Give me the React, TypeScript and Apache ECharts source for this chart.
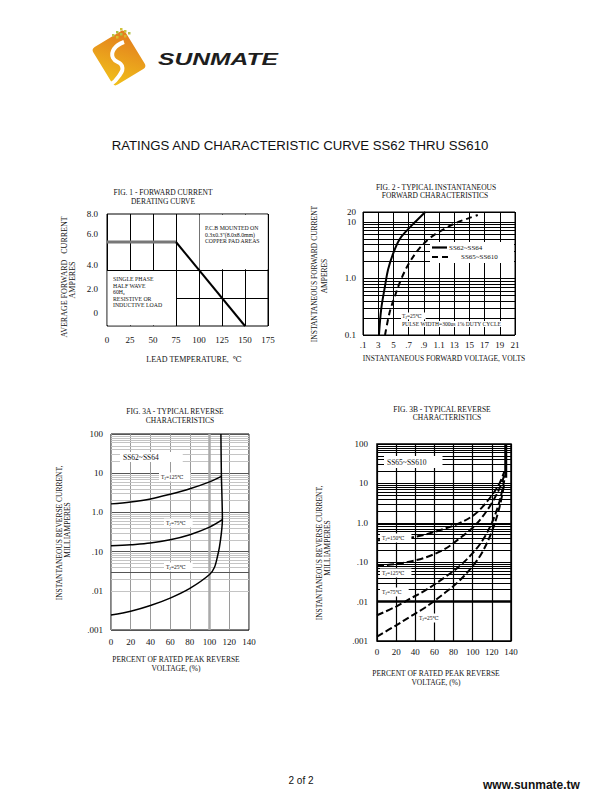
import React, { useEffect, useRef } from "react";
import * as echarts from "echarts";

const SERIF = "'Liberation Serif', 'DejaVu Serif', serif";
const SANS = "'Liberation Sans', Arial, sans-serif";

// ---------- FIG. 1 data ----------
const FIG1_Y_LABELS = ["0", "2.0", "4.0", "6.0", "8.0"];
const FIG1_FLAT = [[0, 6.0], [75, 6.0]];
const FIG1_DERATE = [[75, 6.0], [150, 0]];

// ---------- FIG. 2 data ----------
const FIG2_X_MIN = 0.1;
const FIG2_X_LABELS = [".1", "3", "5", ".7", ".9", "1.1", "13", "15", "17", "19", "21"];
const FIG2_Y_LABELS = ["0.1", "1.0", "10"];
const FIG2_Y_TOP_LABEL = "20";
const FIG2_LEGEND = ["SS62~SS64", "SS65~SS610"];
const FIG2_SS62_64 = [[0.31, 0.1], [0.34, 0.29], [0.39, 0.74], [0.43, 1.44], [0.5, 2.84], [0.58, 4.9], [0.67, 6.9], [0.8, 10.4], [0.92, 15]];
const FIG2_SS65_610 = [[0.39, 0.1], [0.45, 0.25], [0.52, 0.49], [0.61, 1.03], [0.72, 2.0], [0.85, 3.5], [0.98, 5.2], [1.16, 7.4], [1.33, 9.7], [1.51, 11.9], [1.61, 13.3]];

// ---------- FIG. 3 data ----------
const FIG3_Y_LABELS = [".001", ".01", ".10", "1.0", "10", "100"];
const FIG3A_TJ125 = [[0, 1.65], [20, 1.85], [40, 2.2], [60, 2.9], [80, 4.0], [100, 6.0], [112, 8.3]];
const FIG3A_TJ75 = [[0, 0.14], [20, 0.15], [40, 0.165], [60, 0.2], [80, 0.27], [100, 0.42], [113, 0.65]];
const FIG3A_TJ25 = [[0, 0.0024], [20, 0.003], [40, 0.0042], [60, 0.0065], [80, 0.0115], [100, 0.026], [105, 0.04], [108, 0.075], [110, 0.13], [112, 0.3], [113, 0.65], [112.5, 3], [112, 8.3], [111.5, 100]];

const FIG3B_TJ150 = [[0, 0.36], [20, 0.38], [35, 0.42], [50, 0.5], [70, 0.7], [85, 0.95], [100, 1.5], [110, 2.5], [120, 5], [128, 10], [133, 20]];
const FIG3B_TJ125 = [[0, 0.082], [20, 0.09], [35, 0.105], [50, 0.13], [70, 0.21], [85, 0.38], [100, 0.75], [110, 1.4], [120, 3.2], [128, 7.5], [133, 16]];
const FIG3B_TJ75 = [[0, 0.0045], [20, 0.0075], [35, 0.012], [50, 0.019], [70, 0.04], [85, 0.075], [100, 0.17], [110, 0.35], [120, 1.0], [128, 3.5], [133, 12]];
const FIG3B_TJ25 = [[0, 0.0013], [20, 0.0025], [35, 0.0042], [50, 0.007], [70, 0.016], [85, 0.032], [100, 0.08], [110, 0.18], [120, 0.6], [128, 2.5], [133, 10]];
const FIG3B_BREAKDOWN = [[134.5, 14], [134.5, 100]];

// log grid helpers (minor lines inside each decade)
const LOG_MINOR_STEPS = [2, 3, 4, 5, 6, 7, 8, 9];
const FIG2_MINOR_DECADES = [0.1, 1];
const FIG3_MINOR_DECADES = [0.001, 0.01, 0.1, 1, 10];
const FIG3A_DARK_LINES = [0.025, 0.0025];
const FIG3B_THICK_LINES = [0.008];

const minorLines = (decades: number[], style: any) =>
  decades.flatMap((d) => LOG_MINOR_STEPS.map((m) => ({ yAxis: Number((m * d).toPrecision(3)), lineStyle: style })));

const labelBase = { fontFamily: SERIF, fontSize: 9, color: "#111" };

const txt = (text: string, x: number, y: number, o: any = {}) => ({
  type: "text",
  x,
  y,
  z: 100,
  silent: true,
  rotation: o.rotation ?? 0,
  scaleX: o.scaleX ?? 1,
  style: {
    text,
    fontFamily: o.fontFamily ?? SERIF,
    fontSize: o.fontSize ?? 7.5,
    fontWeight: o.fontWeight ?? "normal",
    fontStyle: o.fontStyle ?? "normal",
    fill: o.fill ?? "#111",
    align: o.align ?? "center",
    verticalAlign: "middle",
    backgroundColor: o.bg,
    padding: o.padding,
    rich: o.rich,
  },
});

const tjRich = {
  t: { fontSize: 5.5, fontFamily: SERIF, fill: "#111" },
  s: { fontSize: 4, fontFamily: SERIF, fill: "#111", padding: [3, 0, 0, 0] },
};
const tj = (temp: string, x: number, y: number, pad = [1, 7, 1, 2]) =>
  txt(`{t|T}{s|J}{t|=${temp}\u2103}`, x, y, { align: "left", bg: "#fff", padding: pad, rich: tjRich });

const gridSeries = (gi: number, markLine: any, markArea?: any) => ({
  type: "line",
  name: "grid" + gi,
  xAxisIndex: gi,
  yAxisIndex: gi,
  data: [],
  z: 1,
  silent: true,
  markLine: { silent: true, symbol: ["none", "none"], label: { show: false }, emphasis: { disabled: true }, ...markLine },
  ...(markArea ? { markArea: { silent: true, itemStyle: { color: "#fff" }, emphasis: { disabled: true }, ...markArea } } : {}),
});

const curve = (name: string, gi: number, data: number[][], lineStyle: any, smooth: number | boolean = 0.35) => ({
  type: "line",
  name,
  xAxisIndex: gi,
  yAxisIndex: gi,
  data,
  symbol: "none",
  smooth,
  silent: true,
  z: 5,
  lineStyle: { color: "#000", width: 2, ...lineStyle },
  itemStyle: { color: "#000" },
});

function buildOption() {
  const fig2Shift = (d: number[][]) => d.map(([x, y]) => [Number((x - FIG2_X_MIN).toFixed(3)), y]);
  const fig1Rich: any = {
    l0: { padding: [0, 0, 26, 0] },
    l1: { padding: [0, 0, 18, 0] },
    l2: { padding: [0, 0, 10, 0] },
    l3: { padding: [0, 0, 16, 0] },
    l4: { padding: [0, 0, 0, 0] },
  };

  const blackSplit = { show: true, lineStyle: { color: "#000", width: 1 } };
  const axisCommon = { axisLine: { show: false }, axisTick: { show: false } };

  const graphic: any[] = [
    // ---- logo ----
    {
      type: "group",
      x: 119,
      y: 58,
      rotation: 0.55,
      z: 100,
      children: [
        {
          type: "rect",
          shape: { x: -19, y: -22, width: 38, height: 44, r: 4 },
          style: {
            fill: new echarts.graphic.LinearGradient(0, 1, 1, 0, [
              { offset: 0, color: "#f1c21b" },
              { offset: 1, color: "#e27a1e" },
            ]),
          },
        },
      ],
    },
    {
      type: "polyline",
      z: 101,
      shape: { points: [[124, 42], [114, 49], [113, 58], [122, 66], [119, 76], [110, 85]], smooth: 0.5 },
      style: { stroke: "#fff", lineWidth: 4, fill: "none" },
    },
    ...[
      [112, 34, "#b9c64a"], [116, 31, "#a9c03e"], [120, 28, "#cfc23a"], [116, 36, "#d9c030"],
      [120, 33, "#b0c447"], [124, 30, "#c8c43f"], [124, 35, "#d8b82a"], [128, 32, "#b4c24a"],
    ].map(([x, y, c]) => ({ type: "rect", z: 101, shape: { x: x as number, y: y as number, width: 2.5, height: 2.5 }, style: { fill: c as string } })),
    txt("SUNMATE", 158, 59, { align: "left", fontFamily: SANS, fontSize: 17, fontWeight: "bold", fontStyle: "italic", fill: "#1e1e1e", scaleX: 1.45 }),

    // ---- page title & footer ----
    txt("RATINGS AND CHARACTERISTIC CURVE SS62 THRU SS610", 300, 145, { fontFamily: SANS, fontSize: 13.2, fill: "#111" }),
    txt("2 of 2", 301, 780, { fontFamily: SANS, fontSize: 10 }),
    txt("www.sunmate.tw", 483, 785, { align: "left", fontFamily: SANS, fontSize: 12, fontWeight: "bold" }),

    // ---- FIG 1 ----
    txt("FIG. 1 - FORWARD CURRENT", 163, 192),
    txt("DERATING CURVE", 163, 201),
    txt("AVERAGE FORWARD   CURRENT", 64.5, 277, { rotation: Math.PI / 2, fontSize: 8 }),
    txt("AMPERES", 72, 280, { rotation: Math.PI / 2, fontSize: 8 }),
    txt("LEAD TEMPERATURE,  \u2103", 194, 359, { fontSize: 8 }),
    txt("P.C.B MOUNTED ON", 205, 228, { align: "left", fontSize: 5.8 }),
    txt("0.3x0.3\"(8.0x8.0mm)", 205, 234.5, { align: "left", fontSize: 5.8 }),
    txt("COPPER PAD AREAS", 205, 241, { align: "left", fontSize: 5.8 }),
    txt("SINGLE PHASE", 113, 279, { align: "left", fontSize: 5.8 }),
    txt("HALF WAVE", 113, 285.5, { align: "left", fontSize: 5.8 }),
    txt("60H{s|z}", 113, 292, { align: "left", fontSize: 5.8, rich: { s: { fontSize: 4, fontFamily: SERIF, padding: [3, 0, 0, 0] } } }),
    txt("RESISTIVE OR", 113, 298.5, { align: "left", fontSize: 5.8 }),
    txt("INDUCTIVE LOAD", 113, 305, { align: "left", fontSize: 5.8 }),

    // ---- FIG 2 ----
    txt("FIG. 2 - TYPICAL INSTANTANEOUS", 436, 187),
    txt("FORWARD CHARACTERISTICS", 435, 195.5),
    txt("INSTANTANEOUS FORWARD CURRENT", 314.5, 274, { rotation: Math.PI / 2 }),
    txt("AMPERES", 324.5, 276, { rotation: Math.PI / 2 }),
    txt("INSTANTANEOUS FORWARD VOLTAGE, VOLTS", 444, 358),
    // legend box
    { type: "rect", z: 99, silent: true, shape: { x: 430, y: 242, width: 84, height: 21 }, style: { fill: "#fff" } },
    { type: "line", z: 100, silent: true, shape: { x1: 432, y1: 247.5, x2: 447, y2: 247.5 }, style: { stroke: "#000", lineWidth: 2.2 } },
    txt(FIG2_LEGEND[0], 449, 247.5, { align: "left", fontSize: 7 }),
    { type: "line", z: 100, silent: true, shape: { x1: 432, y1: 257, x2: 450, y2: 257 }, style: { stroke: "#000", lineWidth: 2.2, lineDash: [6, 4] } },
    txt(FIG2_LEGEND[1], 461, 257, { align: "left", fontSize: 7 }),
    txt("{t|T}{s|J}{t|=25\u2103}", 401, 316, { align: "left", bg: "#fff", padding: [0, 4, 0, 1], rich: tjRich }),
    txt("PULSE WIDTH=300us 1% DUTY CYCLE", 401, 324, { align: "left", fontSize: 5.6, bg: "#fff", padding: [0, 6, 0, 1] }),

    // ---- FIG 3A ----
    txt("FIG. 3A - TYPICAL REVERSE", 175, 411.5),
    txt("CHARACTERISTICS", 180, 420.5),
    txt("INSTANTANEOUS REVERSE CURRENT,", 59.5, 533, { rotation: Math.PI / 2 }),
    txt("MILLIAMPERES", 67.5, 530, { rotation: Math.PI / 2 }),
    txt("PERCENT OF RATED PEAK REVERSE", 176, 659),
    txt("VOLTAGE, (%)", 176, 668),
    txt("SS62~SS64", 120, 457, { align: "left", bg: "#fff", padding: [1, 24, 1, 3] }),
    tj("125", 159, 477),
    tj("75", 164, 523),
    tj("25", 164, 567),

    // ---- FIG 3B ----
    txt("FIG. 3B - TYPICAL REVERSE", 442, 409),
    txt("CHARACTERISTICS", 447, 417.5),
    txt("INSTANTANEOUS REVERSE CURRENT,", 319.5, 553, { rotation: Math.PI / 2 }),
    txt("MILLIAMPERES", 327.5, 548, { rotation: Math.PI / 2 }),
    txt("PERCENT OF RATED PEAK REVERSE", 436, 673),
    txt("VOLTAGE, (%)", 436, 682),
    txt("SS65~SS610", 384, 462, { align: "left", bg: "#fff", padding: [2, 16, 2, 3] }),
    tj("150", 380, 538),
    tj("125", 380, 573),
    tj("75", 380, 592),
    tj("25", 417, 618),
  ];

  return {
    animation: false,
    backgroundColor: "#fff",
    grid: [
      { left: 107, top: 214, width: 161, height: 112, show: true, borderColor: "#000", borderWidth: 1, backgroundColor: "transparent" },
      { left: 363, top: 212, width: 152, height: 123, show: true, borderColor: "#000", borderWidth: 1, backgroundColor: "transparent" },
      { left: 111, top: 434, width: 138, height: 196, show: true, borderColor: "#000", borderWidth: 1, backgroundColor: "transparent" },
      { left: 377, top: 444, width: 134, height: 197, show: true, borderColor: "#000", borderWidth: 1.5, backgroundColor: "transparent" },
    ],
    xAxis: [
      { gridIndex: 0, type: "value", min: 0, max: 175, interval: 25, ...axisCommon, splitLine: blackSplit, axisLabel: { ...labelBase, margin: 9 } },
      {
        gridIndex: 1, type: "value", min: 0, max: 2.0, interval: 0.2, ...axisCommon, splitLine: blackSplit,
        axisLabel: { ...labelBase, margin: 5, formatter: (v: number) => FIG2_X_LABELS[Math.round(v / 0.2)] ?? "" },
      },
      { gridIndex: 2, type: "value", min: 0, max: 140, interval: 20, ...axisCommon, splitLine: { show: true, lineStyle: { color: "#9a9a9a", width: 1 } }, axisLabel: { ...labelBase, margin: 7 } },
      { gridIndex: 3, type: "value", min: 0, max: 140, interval: 20, ...axisCommon, splitLine: { show: true, lineStyle: { color: "#000", width: 1.2 } }, axisLabel: { ...labelBase, margin: 6 } },
    ],
    yAxis: [
      {
        gridIndex: 0, type: "value", min: 0, max: 8, interval: 2, ...axisCommon, splitLine: { show: false },
        axisLabel: {
          ...labelBase, margin: 9, showMinLabel: true, showMaxLabel: true,
          formatter: (v: number) => {
            const i = Math.round(v / 2);
            return `{l${i}|${FIG1_Y_LABELS[i]}}`;
          },
          rich: fig1Rich,
        },
      },
      {
        gridIndex: 1, type: "log", logBase: 10, min: 0.1, max: 15, ...axisCommon, splitLine: blackSplit,
        axisLabel: {
          ...labelBase, margin: 7, showMinLabel: true, showMaxLabel: true,
          formatter: (v: number) => (v > 12 ? FIG2_Y_TOP_LABEL : FIG2_Y_LABELS[Math.round(Math.log10(v)) + 1] ?? ""),
        },
      },
      {
        gridIndex: 2, type: "log", logBase: 10, min: 0.001, max: 100, ...axisCommon, splitLine: { show: true, lineStyle: { color: "#555", width: 1 } },
        axisLabel: { ...labelBase, margin: 8, showMinLabel: true, showMaxLabel: true, formatter: (v: number) => FIG3_Y_LABELS[Math.round(Math.log10(v)) + 3] ?? "" },
      },
      {
        gridIndex: 3, type: "log", logBase: 10, min: 0.001, max: 100, ...axisCommon, splitLine: { show: true, lineStyle: { color: "#000", width: 1.2 } },
        axisLabel: { ...labelBase, margin: 9, showMinLabel: true, showMaxLabel: true, formatter: (v: number) => FIG3_Y_LABELS[Math.round(Math.log10(v)) + 3] ?? "" },
      },
    ],
    series: [
      // FIG 1
      gridSeries(
        0,
        { lineStyle: { color: "#000", width: 1, type: "solid" }, data: [{ yAxis: 4 }, [{ coord: [75, 2] }, { coord: [175, 2] }]] },
        { data: [[{ xAxis: 0.4, yAxis: 0.05 }, { xAxis: 74.6, yAxis: 3.95 }], [{ xAxis: 100.6, yAxis: 4.05 }, { xAxis: 174.6, yAxis: 7.95 }]] }
      ),
      curve("fig1-flat", 0, FIG1_FLAT, { color: "#777", width: 3 }, false),
      curve("fig1-derate", 0, FIG1_DERATE, { width: 2 }, false),
      // FIG 2
      gridSeries(1, { lineStyle: { color: "#000", width: 1, type: "solid" }, data: minorLines(FIG2_MINOR_DECADES, { color: "#000", width: 1 }) }),
      curve(FIG2_LEGEND[0], 1, fig2Shift(FIG2_SS62_64), { width: 2 }),
      curve(FIG2_LEGEND[1], 1, fig2Shift(FIG2_SS65_610), { width: 2, type: [6, 4] }),
      // FIG 3A
      gridSeries(2, {
        lineStyle: { color: "#c4c4c4", width: 1, type: "solid" },
        data: [
          ...minorLines(FIG3_MINOR_DECADES, { color: "#c4c4c4", width: 1 }),
          ...FIG3A_DARK_LINES.map((v) => ({ yAxis: v, lineStyle: { color: "#555", width: 1 } })),
          { xAxis: 100, lineStyle: { color: "#aaa", width: 2.5 } },
        ],
      }),
      curve("fig3a-125", 2, FIG3A_TJ125, { width: 1.5 }),
      curve("fig3a-75", 2, FIG3A_TJ75, { width: 1.5 }),
      curve("fig3a-25", 2, FIG3A_TJ25, { width: 1.5 }, 0.3),
      // FIG 3B
      gridSeries(3, {
        lineStyle: { color: "#000", width: 1, type: "solid" },
        data: [
          ...minorLines(FIG3_MINOR_DECADES, { color: "#000", width: 1 }),
          ...FIG3B_THICK_LINES.map((v) => ({ yAxis: v, lineStyle: { color: "#000", width: 2.5 } })),
        ],
      }),
      curve("fig3b-150", 3, FIG3B_TJ150, { width: 2, type: [7, 3] }),
      curve("fig3b-125", 3, FIG3B_TJ125, { width: 2, type: [7, 3] }),
      curve("fig3b-75", 3, FIG3B_TJ75, { width: 2, type: [7, 3] }),
      curve("fig3b-25", 3, FIG3B_TJ25, { width: 2, type: [7, 3] }),
      curve("fig3b-breakdown", 3, FIG3B_BREAKDOWN, { width: 3 }, false),
    ],
    graphic,
  };
}

export default function App() {
  const ref = useRef<HTMLDivElement>(null);
  useEffect(() => {
    if (!ref.current) return;
    const chart = echarts.init(ref.current, null, { renderer: "svg" });
    chart.setOption(buildOption() as any);
    return () => chart.dispose();
  }, []);
  return <div ref={ref} style={{ position: "absolute", left: 0, top: 0, width: 610, height: 810, background: "#fff" }} />;
}
